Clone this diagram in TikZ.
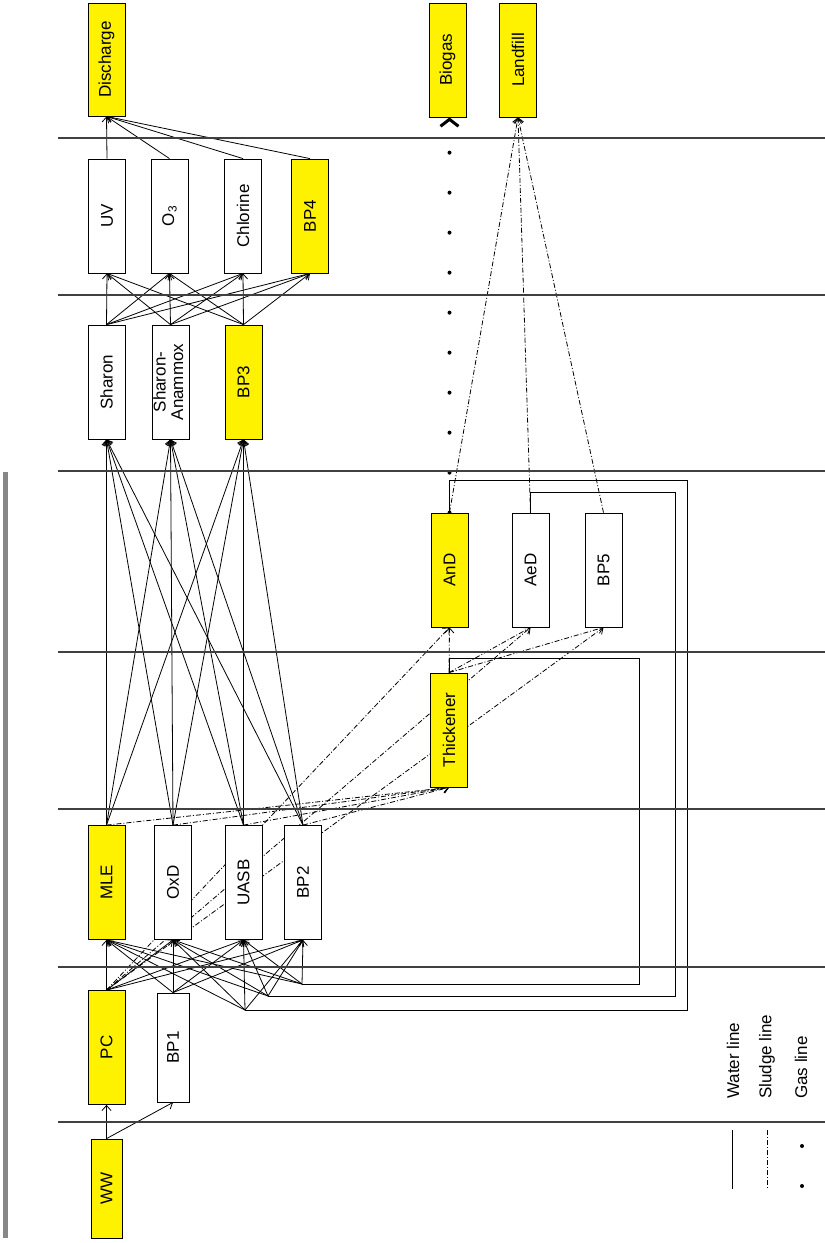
\documentclass[tikz,border=0pt]{standalone}
\usepackage{fontspec}
\setmainfont{Liberation Sans}
\usepackage{graphicx}
\usetikzlibrary{arrows.meta}
\pgfdeclarelayer{bg}
\pgfsetlayers{bg,main}
\tikzset{
  box/.style={draw=black, line width=0.8pt, fill=white, minimum width=37pt, minimum height=114pt, inner sep=0pt, font=\fontsize{17}{19.5}\selectfont},
  ybox/.style={box, fill=yellow},
  water/.style={draw=black, line width=0.8pt, -{Straight Barb[length=5pt,width=9pt]}},
  sludge/.style={draw=black, line width=0.8pt, dash pattern=on 5pt off 2pt on 1pt off 2pt, -{Straight Barb[length=5pt,width=9pt]}},
  loopline/.style={draw=black, line width=1pt},
  sepline/.style={draw=black!75, line width=1.3pt},
  gasdots/.style={draw=black, line width=4pt, line cap=round, dash pattern=on 0pt off 40pt},
  gas/.style={gasdots, -{Straight Barb[length=7pt,width=18pt,line width=3pt]}},
  legtxt/.style={font=\fontsize{17}{19.5}\selectfont, inner sep=0pt, anchor=west, rotate=90}
}
\begin{document}
\begin{tikzpicture}[x=1pt, y=-1pt]
\useasboundingbox (0,0) rectangle (825,1243);

% stage separators
\foreach \yy in {138,295,471,652,809,967,1122}
  \draw[sepline] (58,\yy) -- (825,\yy);

% left grey bar
\fill[black!47] (3,472) rectangle (8,1238);

% boxes
\node[ybox, minimum height=113pt] (Dis) at (106.5,59.5) {\rotatebox{90}{Discharge}};
\node[ybox] (Biogas) at (447.5,60) {\rotatebox{90}{Biogas}};
\node[ybox] (Landfill) at (518,60) {\rotatebox{90}{Landfill}};

\node[box] (UV) at (107,216) {\rotatebox{90}{UV}};
\node[box] (O3) at (169.5,216) {\rotatebox{90}{O\textsubscript{3}}};
\node[box] (Cl) at (243,216) {\rotatebox{90}{Chlorine}};
\node[ybox] (BP4) at (310,216) {\rotatebox{90}{BP4}};

\node[box] (Sharon) at (106.5,382) {\rotatebox{90}{Sharon}};
\node[box] (SA) at (170.5,382) {\rotatebox{90}{\begin{tabular}{@{}c@{}}Sharon-\\[-2pt]Anammox\end{tabular}}};
\node[ybox] (BP3) at (243.5,382) {\rotatebox{90}{BP3}};

\node[ybox] (AnD) at (449.5,570) {\rotatebox{90}{AnD}};
\node[box] (AeD) at (530.5,570) {\rotatebox{90}{AeD}};
\node[box] (BP5) at (603.5,570) {\rotatebox{90}{BP5}};

\node[ybox] (Thk) at (449,730) {\rotatebox{90}{Thickener}};

\node[ybox] (MLE) at (106.5,882.5) {\rotatebox{90}{MLE}};
\node[box] (OxD) at (173,882.5) {\rotatebox{90}{OxD}};
\node[box] (UASB) at (243.5,882.5) {\rotatebox{90}{UASB}};
\node[box] (BP2) at (303,882.5) {\rotatebox{90}{BP2}};

\node[ybox] (PC) at (106.5,1047.5) {\rotatebox{90}{PC}};
\node[box, minimum width=32pt, minimum height=109pt] (BP1) at (173,1047.5) {\rotatebox{90}{BP1}};

\node[ybox, minimum width=31pt, minimum height=99pt] (WW) at (106.5,1188.5) {\rotatebox{90}{WW}};

% return points
\coordinate (F1) at (302,984);
\coordinate (F2) at (268,996);
\coordinate (F3) at (245,1010);

\begin{pgfonlayer}{bg}
% water lines
\draw[water] (WW.north) -- (PC.south);
\draw[water] (WW.north) -- (BP1.south);
\foreach \s in {PC.north,BP1.north,F1,F2,F3}
  \foreach \t in {MLE,OxD,UASB,BP2}
    \draw[water] (\s) -- (\t.south);
\foreach \s in {MLE,OxD,UASB,BP2}
  \foreach \t in {Sharon,SA,BP3}
    \draw[water] (\s.north) -- (\t.south);
\foreach \s in {Sharon,SA,BP3}
  \foreach \t in {UV,O3,Cl,BP4}
    \draw[water] (\s.north) -- (\t.south);
\foreach \s in {UV,O3,Cl,BP4}
  \draw[water] (\s.north) -- (Dis.south);

% return loops
\draw[loopline] (Thk.north) |- (639,658) |- (F1);
\draw[loopline] (AeD.north) |- (675,492) |- (F2);
\draw[loopline] (AnD.north) |- (687,480) |- (F3);

% sludge lines
\foreach \s in {MLE,OxD,UASB,BP2}
  \draw[sludge] (\s.north) -- (Thk.south);
\foreach \t in {AnD,AeD,BP5} {
  \draw[sludge] (PC.north) -- (\t.south);
  \draw[sludge] (Thk.north) -- (\t.south);
  \draw[sludge] (\t.north) -- (Landfill.south);
}

% gas line
\draw[gas] (AnD.north) -- (AnD.north |- Biogas.south);
\end{pgfonlayer}

% legend
\node[legtxt] (Lw) at (733,1099) {Water line};
\node[legtxt] (Ls) at (767,1099) {Sludge line};
\node[legtxt] (Lg) at (801,1099) {Gas line};
\coordinate (lwa) at (732,1130);
\coordinate (lwb) at (732,1189);
\coordinate (lsa) at (767,1130);
\coordinate (lsb) at (767,1189);
\coordinate (lga) at (802,1146);
\coordinate (lgb) at (802,1186.5);
\draw[loopline, line width=0.9pt] (lwa) -- (lwb);
\draw[draw=black, line width=0.8pt, dash pattern=on 5pt off 2pt on 1pt off 2pt] (lsa) -- (lsb);
\draw[gasdots] (lga) -- (lgb);
\end{tikzpicture}
\end{document}
